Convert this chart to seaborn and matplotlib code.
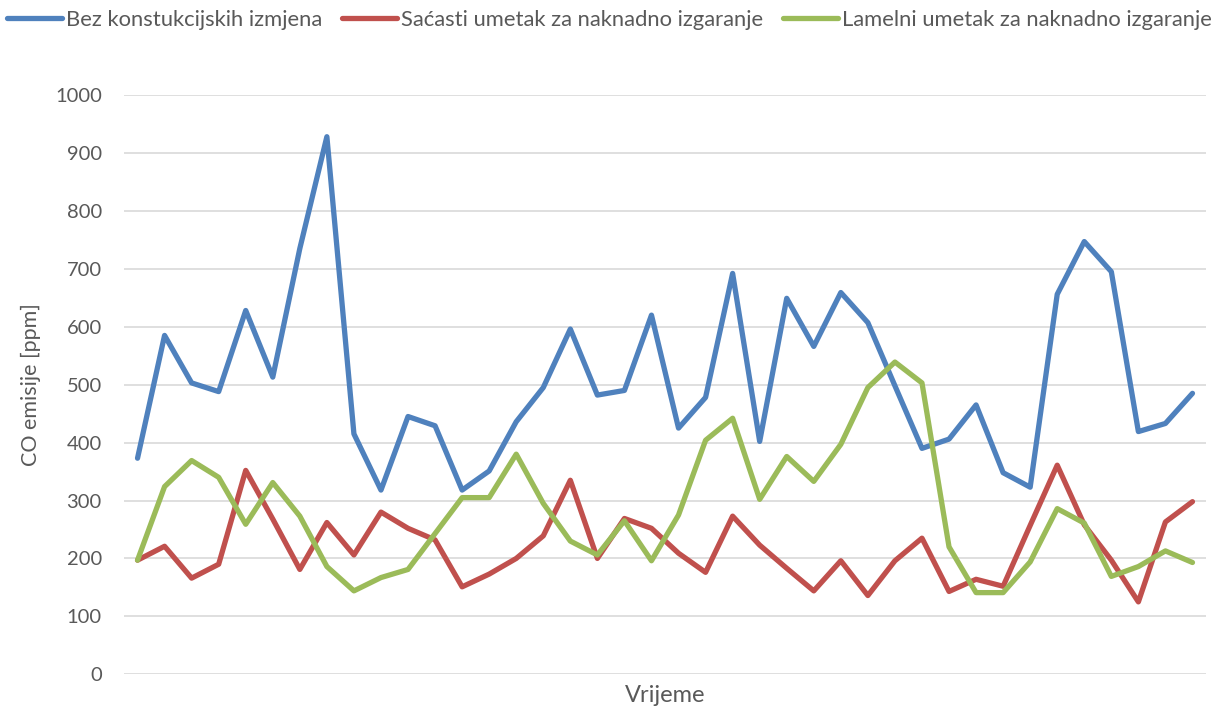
import matplotlib
matplotlib.use("Agg")
import matplotlib.pyplot as plt
import seaborn as sns
import pandas as pd
import numpy as np

# CO emission measurements (ppm) at successive time samples
bez_izmjena = [373, 585, 503, 488, 628, 513, 735, 928, 415, 318,
               445, 429, 318, 351, 436, 495, 596, 482, 490, 620,
               425, 478, 692, 402, 649, 566, 659, 607, 498, 390,
               406, 465, 348, 323, 656, 747, 695, 419, 433, 485]
sacasti = [197, 221, 166, 190, 352, 268, 181, 262, 206, 280,
           252, 232, 151, 173, 200, 239, 335, 200, 269, 252,
           209, 176, 273, 223, 183, 144, 196, 136, 196, 235,
           143, 164, 152, 257, 361, 258, 197, 125, 263, 298]
lamelni = [197, 324, 369, 340, 259, 331, 273, 186, 144, 167,
           181, 243, 305, 305, 380, 295, 230, 206, 265, 196,
           275, 404, 442, 302, 376, 333, 397, 495, 539, 503,
           220, 141, 141, 194, 286, 261, 169, 186, 213, 193]

series_names = ["Bez konstukcijskih izmjena",
                "Saćasti umetak za naknadno izgaranje",
                "Lamelni umetak za naknadno izgaranje"]
colors = ["#4F81BD", "#C0504D", "#9BBB59"]
y_ticks = [0, 100, 200, 300, 400, 500, 600, 700, 800, 900, 1000]

n = len(bez_izmjena)
df = pd.DataFrame({
    "t": np.tile(np.arange(n), 3),
    "co": bez_izmjena + sacasti + lamelni,
    "serija": np.repeat(series_names, n),
})

sns.set_theme(style="white")
plt.rcParams["font.family"] = ["Lato", "DejaVu Sans"]
text_color = "#595959"

fig = plt.figure(figsize=(12.19, 7.08), dpi=100)
ax = fig.add_axes([124 / 1219, 1 - 674.3 / 708, (1206 - 124) / 1219, (674.3 - 95) / 708])

sns.lineplot(data=df, x="t", y="co", hue="serija", hue_order=series_names,
             palette=colors, linewidth=3.8, ax=ax, legend=False,
             solid_joinstyle="round", solid_capstyle="round")

ax.set_xlim(-0.5, n - 0.5)
ax.set_ylim(0, 1000)
ax.set_yticks(y_ticks)
ax.set_yticklabels([str(v) for v in y_ticks])
ax.set_xticks([])
ax.yaxis.grid(True, color="#d9d9d9", linewidth=1.2)
ax.set_axisbelow(True)
for side in ["top", "right", "left", "bottom"]:
    ax.spines[side].set_visible(False)
ax.tick_params(axis="y", length=0, pad=16, labelsize=14.5, labelcolor=text_color)

ax.set_xlabel("Vrijeme", fontsize=17, color=text_color, labelpad=8)
ax.set_ylabel("CO emisije [ppm]", fontsize=15.5, color=text_color, labelpad=10)

handles = [plt.Line2D([0], [0], color=c, linewidth=3.8, solid_capstyle="round")
           for c in colors]
fig.legend(handles, series_names, loc="center", bbox_to_anchor=(0.5, 1 - 20 / 708),
           ncol=3, frameon=False, fontsize=15.8, handlelength=2.5,
           handletextpad=0.2, columnspacing=0.9, labelcolor=text_color)

fig.savefig("out.png", dpi=100, facecolor="white")
